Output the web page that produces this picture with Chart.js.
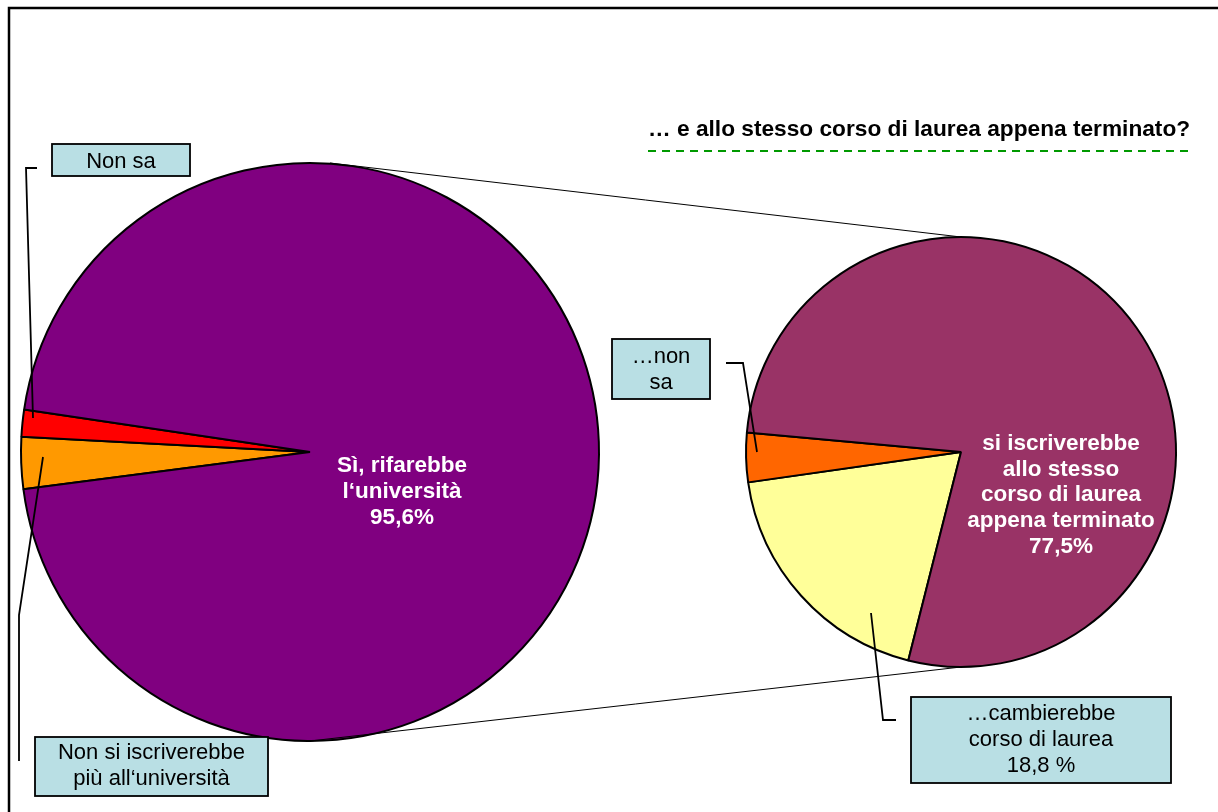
<!DOCTYPE html>
<html lang="it">
<head>
<meta charset="utf-8">
<title>Rifarebbe l'università?</title>
<script src="https://cdn.jsdelivr.net/npm/chart.js@4.4.0/dist/chart.umd.min.js"></script>
<style>
  html, body { margin: 0; padding: 0; background: #fff; }
  #wrap { position: relative; width: 1218px; height: 812px; overflow: hidden; }
  #wrap canvas { position: absolute; left: 0; top: 0; }
</style>
</head>
<body>
<div id="wrap">
  <canvas id="mainPie" width="1218" height="812"></canvas>
  <canvas id="detailPie" width="1218" height="812"></canvas>
</div>
<script>
// Rifarebbe l'università? (torta a sinistra)
const mainLabels = [["Non si iscriverebbe", "più all‘università"], ["Non sa"], ["Sì, rifarebbe", "l‘università"]]
const mainValues = [2.9, 1.5, 95.6]
const mainColors = ["#FF9900", "#FF0000", "#800080"]

// ...e allo stesso corso? (torta a destra, dettaglio dei "Sì")
const detailLabels = [["…cambierebbe", "corso di laurea"], ["…non", "sa"], ["si iscriverebbe", "allo stesso", "corso di laurea", "appena terminato"]]
const detailValues = [18.8, 3.7, 77.5]
const detailColors = ["#FFFF99", "#FF6600", "#993366"]

const detailTitle = "… e allo stesso corso di laurea appena terminato?"

const FONT = '"Liberation Sans", Arial, sans-serif'
const BOX_FILL = "#B9DFE4"

const pct = (v, sep = "") => v.toFixed(1).replace(".", ",") + sep + "%"

// callout boxes: [x, y, w, h], first baseline, leader polyline
const mainCallouts = [
  { index: 0, box: [35, 737, 233, 59], textY: 759, leader: [[19, 761], [19, 615], [43, 457]] },
  { index: 1, box: [52, 144, 138, 32], textY: 168, leader: [[37, 168], [26, 168], [33, 418]] },
]
const detailCallouts = [
  { index: 0, box: [911, 697, 260, 86], textY: 720, leader: [[896, 720], [883, 720], [871, 613]], value: " " },
  { index: 1, box: [612, 339, 98, 60], textY: 363, leader: [[726, 363], [743, 363], [757, 452]] },
]

function drawLines(ctx, lines, x, y, lineH, font, color) {
  ctx.save()
  ctx.font = font
  ctx.fillStyle = color
  ctx.textAlign = "center"
  ctx.textBaseline = "alphabetic"
  lines.forEach((t, i) => ctx.fillText(t, x, y + i * lineH))
  ctx.restore()
}

function drawCallout(ctx, c, lines) {
  ctx.save()
  ctx.strokeStyle = "#000"
  ctx.lineWidth = 1.8
  ctx.beginPath()
  c.leader.forEach(([x, y], i) => (i ? ctx.lineTo(x, y) : ctx.moveTo(x, y)))
  ctx.stroke()
  const [bx, by, bw, bh] = c.box
  ctx.fillStyle = BOX_FILL
  ctx.fillRect(bx, by, bw, bh)
  ctx.strokeRect(bx, by, bw, bh)
  ctx.restore()
  drawLines(ctx, lines, bx + bw / 2, c.textY, 26, "22px " + FONT, "#000")
}

const mainDecor = {
  id: "mainDecor",
  beforeDraw(chart) {
    const ctx = chart.ctx
    ctx.save()
    // outer frame
    ctx.strokeStyle = "#000"
    ctx.lineWidth = 2.5
    ctx.strokeRect(9, 8, 1400, 1000)
    // title of the detail pie
    ctx.font = "bold 22.7px " + FONT
    ctx.fillStyle = "#000"
    ctx.textAlign = "left"
    ctx.fillText(detailTitle, 648, 136)
    ctx.strokeStyle = "#009900"
    ctx.lineWidth = 2
    ctx.setLineDash([8, 6])
    ctx.beginPath()
    ctx.moveTo(648, 151)
    ctx.lineTo(1190, 151)
    ctx.stroke()
    ctx.restore()
  },
  afterDatasetsDraw(chart) {
    const ctx = chart.ctx
    const arcs = chart.getDatasetMeta(0).data
    const big = arcs[2]
    drawLines(ctx, [...mainLabels[2], pct(mainValues[2])], big.x + 92, big.y + 20, 26, "bold 22.5px " + FONT, "#fff")
    mainCallouts.forEach(c => drawCallout(ctx, c, mainLabels[c.index]))
  },
}

const mainChart = new Chart(document.getElementById("mainPie"), {
  type: "pie",
  data: {
    labels: mainLabels,
    datasets: [{ data: mainValues, backgroundColor: mainColors, borderColor: "#000", borderWidth: 2, hoverOffset: 0 }],
  },
  options: {
    responsive: false,
    animation: false,
    events: [],
    rotation: 262.6,
    layout: { padding: { left: 20, top: 162, right: 618, bottom: 70 } },
    plugins: { legend: { display: false }, tooltip: { enabled: false } },
  },
  plugins: [mainDecor],
})

const detailDecor = {
  id: "detailDecor",
  beforeDatasetsDraw(chart) {
    // lines joining the "Sì" pie to its breakdown
    const a = mainChart.getDatasetMeta(0).data[0]
    const b = chart.getDatasetMeta(0).data[0]
    const ctx = chart.ctx
    ctx.save()
    ctx.strokeStyle = "#000"
    ctx.lineWidth = 1
    ctx.beginPath()
    ctx.moveTo(a.x + 20, a.y - a.outerRadius)
    ctx.lineTo(b.x, b.y - b.outerRadius)
    ctx.moveTo(a.x, a.y + a.outerRadius)
    ctx.lineTo(b.x, b.y + b.outerRadius)
    ctx.stroke()
    ctx.restore()
  },
  afterDatasetsDraw(chart) {
    const ctx = chart.ctx
    const big = chart.getDatasetMeta(0).data[2]
    drawLines(ctx, [...detailLabels[2], pct(detailValues[2])], big.x + 100, big.y - 2, 25.7, "bold 22.5px " + FONT, "#fff")
    detailCallouts.forEach(c => {
      const lines = [...detailLabels[c.index]]
      if (c.value !== undefined) lines.push(pct(detailValues[c.index], c.value))
      drawCallout(ctx, c, lines)
    })
  },
}

new Chart(document.getElementById("detailPie"), {
  type: "pie",
  data: {
    labels: detailLabels,
    datasets: [{ data: detailValues, backgroundColor: detailColors, borderColor: "#000", borderWidth: 2, hoverOffset: 0 }],
  },
  options: {
    responsive: false,
    animation: false,
    events: [],
    rotation: 194.2,
    layout: { padding: { left: 745, top: 236, right: 41, bottom: 144 } },
    plugins: { legend: { display: false }, tooltip: { enabled: false } },
  },
  plugins: [detailDecor],
})
</script>
</body>
</html>
